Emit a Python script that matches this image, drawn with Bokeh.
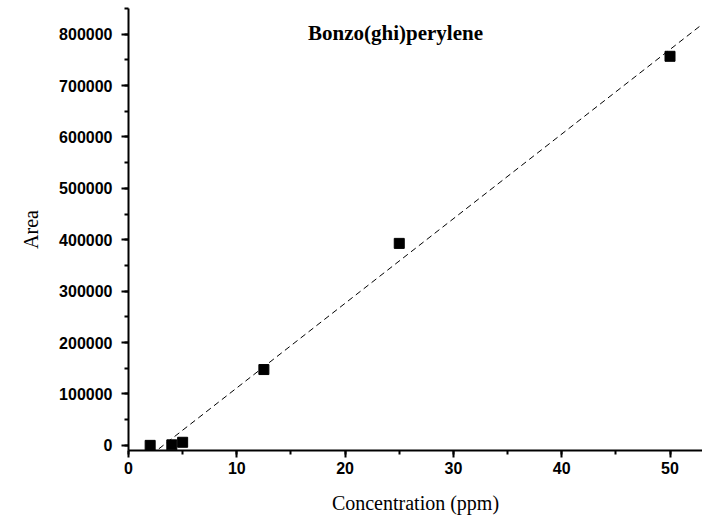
import numpy as np
from bokeh.plotting import figure
from bokeh.models import Range1d, SingleIntervalTicker, BasicTickFormatter, Label, ColumnDataSource
from bokeh.embed import file_html
from bokeh.resources import INLINE

# Data
concentration = [2, 4, 5, 12.5, 25, 50]
area = [0, 1000, 6000, 147500, 393000, 757000]
title_text = "Bonzo(ghi)perylene"
x_label = "Concentration (ppm)"
y_label = "Area"

# linear least-squares calibration fit
slope, intercept = np.polyfit(concentration, area, 1)
fit_x = [2.8, 53]
fit_y = [slope * v + intercept for v in fit_x]

p = figure(width=702, height=520, output_backend="svg", toolbar_location=None,
           x_range=Range1d(0, 53), y_range=Range1d(-10000, 850000),
           min_border_left=128, min_border_right=0, min_border_top=8, min_border_bottom=70)
p.outline_line_color = None
p.grid.visible = False
p.background_fill_color = "white"
p.border_fill_color = "white"

p.xaxis.ticker = SingleIntervalTicker(interval=10, num_minor_ticks=2)
p.yaxis.ticker = SingleIntervalTicker(interval=100000, num_minor_ticks=2)
p.yaxis.formatter = BasicTickFormatter(use_scientific=False)

for ax in (p.xaxis, p.yaxis):
    ax.axis_line_width = 2
    ax.axis_line_color = "black"
    ax.major_tick_line_width = 2
    ax.minor_tick_line_width = 2
    ax.major_tick_line_color = "black"
    ax.minor_tick_line_color = "black"
    ax.major_tick_in = 0
    ax.major_tick_out = 7
    ax.minor_tick_in = 0
    ax.minor_tick_out = 4
    ax.major_label_text_font = "Liberation Sans"
    ax.major_label_text_font_style = "bold"
    ax.major_label_text_font_size = "16px"
    ax.major_label_text_color = "black"
    ax.axis_label_text_font = "Liberation Serif"
    ax.axis_label_text_font_style = "normal"
    ax.axis_label_text_font_size = "20px"
    ax.axis_label_text_color = "black"

p.xaxis.axis_label = x_label
p.yaxis.axis_label = y_label
p.xaxis.major_label_standoff = 4
p.yaxis.major_label_standoff = 9
p.xaxis.axis_label_standoff = 15
p.yaxis.axis_label_standoff = 14

p.line(fit_x, fit_y, line_color="black", line_width=1, line_dash="6 4")
src = ColumnDataSource(dict(x=concentration, y=area))
p.scatter("x", "y", source=src, marker="square", size=10, fill_color="black", line_color="black")

p.add_layout(Label(x=267, y=418, x_units="screen", y_units="screen", text=title_text,
                   text_align="center", text_baseline="middle", text_font="Liberation Serif",
                   text_font_style="bold", text_font_size="21px", text_color="black"))

open("out.html", "w").write(file_html(p, INLINE))
